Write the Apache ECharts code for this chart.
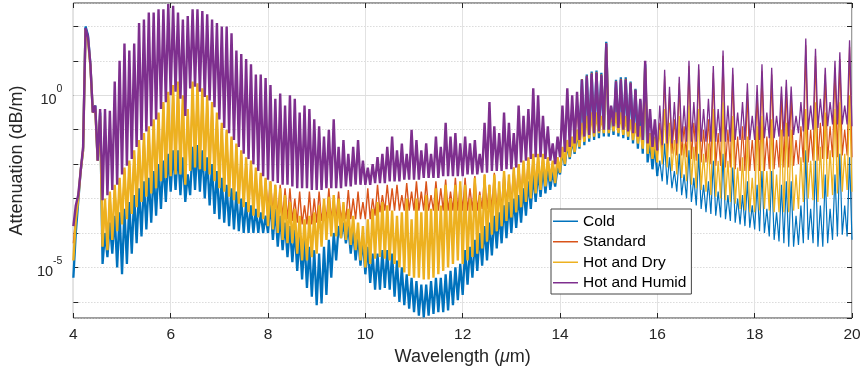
<!DOCTYPE html>
<html>
<head>
<meta charset="utf-8">
<script src="https://cdn.jsdelivr.net/npm/echarts@6/dist/echarts.min.js"></script>
<style>
  html, body { margin: 0; padding: 0; background: #fff; }
  #chart { width: 865px; height: 374px; }
</style>
</head>
<body>
<div id="chart"></div>
<script>
// wavelength grid: lows read at 4.0, 4.1, ... 20.0 µm, highs read half a step later
const wlStart = 4;
const wlStep = 0.1;
const labeledDecades = [-5, 0];

// log10 of attenuation (dB/m)
const coldLo = [
  -5.3, -3.1, -1.6, 1.75, -0.5, -1.9, -4.9, -4.7, -4.6, -5.0,
  -5.2, -4.9, -4.6, -4.3, -4.1, -3.9, -3.7, -3.5, -3.3, -3.1,
  -2.8, -2.75, -2.9, -3.1, -2.9, -2.75, -2.8, -3.0, -3.2, -3.45,
  -3.6, -3.7, -3.8, -3.9, -3.95, -4.0, -4.0, -4.0, -4.0, -4.0,
  -4.0, -4.2, -4.4, -4.5, -4.7, -4.85, -5.1, -5.35, -5.6, -5.85,
  -6.1, -6.05, -5.8, -5.3, -4.8, -4.15, -4.3, -4.6, -4.8, -4.95,
  -5.2, -5.45, -5.65, -5.65, -5.6, -5.65, -5.85, -6.0, -6.1, -6.2,
  -6.3, -6.4, -6.45, -6.4, -6.35, -6.3, -6.3, -6.25, -6.1, -5.95,
  -5.8, -5.5, -5.3, -5.1, -4.95, -4.8, -4.65, -4.45, -4.3, -4.15,
  -4.0, -3.85, -3.7, -3.5, -3.3, -3.1, -2.95, -2.85, -2.75, -2.65,
  -2.3, -2.05, -1.85, -1.7, -1.55, -1.45, -1.35, -1.3, -1.25, -1.2,
  -1.2, -1.15, -1.2, -1.25, -1.3, -1.4, -1.55, -1.7, -1.95, -2.15,
  -2.35, -2.5, -2.6, -2.7, -2.8, -2.9, -3.0, -3.1, -3.2, -3.3,
  -3.4, -3.45, -3.5, -3.55, -3.6, -3.65, -3.7, -3.75, -3.8, -3.85,
  -3.9, -3.95, -4.0, -4.1, -4.2, -4.25, -4.3, -4.4, -4.4, -4.35,
  -4.3, -4.2, -4.3, -4.4, -4.4, -4.3, -4.2, -4.1, -4.05, -4.1,
  -4.2
];
const coldHi = [
  -4.0, -2.2, 2.0, 0.9, -0.3, -0.5, -4.0, -3.7, -3.5, -3.4,
  -3.3, -3.1, -2.9, -2.7, -2.5, -2.4, -2.2, -2.0, -1.9, -1.7,
  -1.6, -1.6, -1.8, -2.3, -1.5, -1.45, -1.6, -1.8, -2.0, -2.2,
  -2.4, -2.6, -2.7, -2.8, -3.0, -3.1, -3.2, -3.3, -3.4, -3.5,
  -3.1, -3.3, -3.5, -3.7, -3.8, -3.9, -4.1, -4.2, -4.4, -4.5,
  -4.6, -4.4, -4.2, -4.0, -3.8, -3.7, -3.8, -3.9, -4.1, -4.2,
  -4.4, -4.6, -4.6, -4.5, -4.5, -4.6, -4.8, -5.0, -5.2, -5.3,
  -5.4, -5.5, -5.5, -5.4, -5.3, -5.3, -5.2, -5.1, -5.0, -4.9,
  -4.5, -4.4, -4.2, -4.0, -3.8, -3.7, -3.5, -3.4, -3.2, -3.1,
  -3.0, -2.9, -2.7, -2.5, -2.3, -2.2, -2.1, -2.1, -2.2, -2.1,
  -1.6, -1.4, -1.3, -1.1, 0.47, 0.6, 0.69, 0.72, 0.65, 1.55,
  -0.35, 0.45, 0.52, 0.52, 0.4, 0.19, -0.15, 0.9, -1.3, -1.4,
  -1.9, -1.4, -1.8, -2.2, -1.7, -2.3, -1.6, -2.4, -1.7, -2.6,
  -2.5, -1.9, -2.8, -1.7, -2.9, -2.1, -3.0, -2.9, -2.5, -3.2,
  -2.6, -2.2, -3.3, -2.2, -3.4, -2.6, -2.5, -2.5, -3.5, -3.2,
  -1.6, -3.3, -1.9, -3.2, -2.3, -3.3, -2.3, -1.7, -3.2, -1.8
];

const standardLo = [
  -4.3, -3.0, -1.55, 1.65, -0.5, -1.9, -4.35, -4.45, -4.15, -3.9,
  -3.7, -3.55, -3.4, -3.2, -3.05, -2.9, -2.8, -2.65, -2.45, -2.35,
  -2.3, -2.25, -2.25, -2.5, -2.15, -2.05, -2.1, -2.15, -2.25, -2.45,
  -2.65, -2.75, -2.9, -3.0, -3.1, -3.2, -3.35, -3.45, -3.5, -3.5,
  -3.3, -3.4, -3.5, -3.55, -3.6, -3.65, -3.7, -3.75, -3.75, -3.75,
  -3.7, -3.65, -3.6, -3.6, -3.6, -3.6, -3.6, -3.6, -3.6, -3.6,
  -3.6, -3.6, -3.5, -3.4, -3.35, -3.35, -3.35, -3.35, -3.35, -3.35,
  -3.35, -3.35, -3.35, -3.35, -3.35, -3.35, -3.35, -3.35, -3.35, -3.35,
  -3.35, -3.35, -3.35, -3.35, -3.3, -3.3, -3.3, -3.3, -3.25, -3.15,
  -3.1, -3.0, -2.9, -2.8, -2.75, -2.65, -2.55, -2.45, -2.35, -2.4,
  -2.1, -1.9, -1.7, -1.55, -1.4, -1.3, -1.2, -1.15, -1.05, -1.05,
  -1.05, -1.0, -1.05, -1.1, -1.15, -1.25, -1.35, -1.5, -1.6, -1.7,
  -1.75, -1.7, -1.7, -1.7, -1.75, -1.75, -1.8, -1.85, -1.9, -1.95,
  -1.95, -2.0, -2.05, -2.05, -2.1, -2.1, -2.15, -2.2, -2.2, -2.2,
  -2.2, -2.2, -2.2, -2.15, -2.15, -2.1, -2.1, -2.1, -2.05, -2.0,
  -1.95, -1.95, -1.9, -1.9, -1.85, -1.85, -1.8, -1.8, -1.75, -1.75,
  -1.8
];
const standardHi = [
  -3.5, -2.2, 1.92, 0.88, -0.35, -0.5, -3.05, -2.85, -2.65, -2.45,
  -2.15, -1.95, -1.65, -1.35, -1.15, -0.95, -0.75, -0.55, -0.25, 0.05,
  0.25, 0.35, -0.05, -0.45, 0.35, 0.3, 0.15, -0.05, -0.25, -0.55,
  -0.85, -1.05, -1.25, -1.45, -1.65, -1.85, -1.95, -2.15, -2.3, -2.45,
  -2.5, -2.6, -2.6, -2.7, -2.7, -3.0, -2.8, -3.2, -2.8, -3.0,
  -2.8, -3.1, -2.7, -3.0, -2.8, -3.2, -2.75, -3.0, -2.8, -3.1,
  -2.7, -3.0, -2.6, -2.9, -2.6, -2.7, -2.6, -2.9, -2.55, -2.8,
  -2.5, -2.8, -2.5, -2.9, -2.5, -2.7, -2.45, -2.8, -2.4, -2.6,
  -2.4, -2.7, -2.35, -2.8, -2.3, -2.6, -2.25, -2.7, -2.2, -2.4,
  -2.1, -2.0, -1.95, -1.85, -1.75, -1.75, -1.75, -1.85, -1.95, -1.85,
  -1.55, -1.35, -1.25, -0.2, 0.47, 0.57, 0.65, 0.68, 0.61, 1.52,
  -0.35, 0.42, 0.48, 0.48, 0.37, 0.17, -0.15, 0.95, -1.15, -1.25,
  -0.8, 0.55, 0.05, -0.7, 0.35, -0.9, 0.85, -0.8, 0.75, -1.0,
  -0.7, 0.65, -1.1, 1.15, -1.0, 0.6, -1.2, -0.9, 0.1, -1.3,
  0.1, 0.7, -1.2, 0.6, -1.3, 0.05, 0.25, 0.0, -1.3, -0.9,
  1.45, -1.0, 1.15, -0.8, 0.6, -0.9, 0.8, 1.05, -1.0, 1.4
];

const hotDryLo = [
  -4.8, -3.0, -1.6, 1.6, -0.5, -1.9, -4.4, -4.5, -4.2, -3.95,
  -3.75, -3.6, -3.45, -3.25, -3.1, -2.95, -2.85, -2.7, -2.5, -2.4,
  -2.35, -2.3, -2.3, -2.6, -2.2, -2.1, -2.15, -2.2, -2.3, -2.5,
  -2.7, -2.8, -2.95, -3.05, -3.15, -3.25, -3.4, -3.5, -3.55, -3.6,
  -3.8, -3.9, -4.0, -4.2, -4.3, -4.3, -4.6, -4.8, -4.8, -4.7,
  -4.6, -4.4, -4.2, -4.1, -4.1, -4.15, -4.2, -4.35, -4.5, -4.8,
  -5.0, -4.9, -4.75, -4.7, -4.75, -4.8, -4.9, -5.0, -5.15, -5.25,
  -5.3, -5.3, -5.35, -5.35, -5.3, -5.2, -5.1, -5.0, -4.9, -4.8,
  -4.9, -4.8, -4.7, -4.6, -4.45, -4.25, -4.05, -3.95, -3.8, -3.65,
  -3.55, -3.4, -3.25, -3.1, -3.0, -2.85, -2.75, -2.65, -2.5, -2.55,
  -2.25, -2.0, -1.8, -1.65, -1.5, -1.35, -1.25, -1.2, -1.1, -1.1,
  -1.1, -1.05, -1.1, -1.15, -1.2, -1.3, -1.4, -1.55, -1.7, -1.85,
  -1.95, -2.0, -2.1, -2.2, -2.3, -2.4, -2.5, -2.6, -2.7, -2.75,
  -2.8, -2.9, -2.95, -3.0, -3.05, -3.1, -3.15, -3.3, -3.35, -3.4,
  -3.4, -3.35, -3.3, -3.35, -3.4, -3.4, -3.4, -3.4, -3.35, -3.3,
  -3.1, -3.0, -3.05, -3.1, -3.0, -2.95, -2.9, -2.85, -2.8, -2.75,
  -2.8
];
const hotDryHi = [
  -3.6, -2.2, 1.9, 0.85, -0.4, -0.6, -3.0, -2.8, -2.6, -2.4,
  -2.1, -1.9, -1.6, -1.3, -1.1, -0.9, -0.7, -0.5, -0.2, 0.1,
  0.3, 0.4, 0.0, -0.4, 0.4, 0.35, 0.2, 0.0, -0.2, -0.5,
  -0.8, -1.0, -1.2, -1.4, -1.6, -1.8, -1.9, -2.1, -2.25, -2.4,
  -2.5, -2.6, -2.7, -2.9, -3.1, -3.3, -3.5, -3.6, -3.5, -3.4,
  -3.2, -3.0, -2.95, -2.9, -3.0, -3.1, -3.3, -3.5, -3.7, -3.8,
  -3.6, -3.3, -3.1, -3.1, -3.2, -3.35, -3.5, -3.4, -3.0, -3.6,
  -3.0, -3.4, -2.9, -3.3, -2.7, -3.2, -2.6, -3.0, -2.6, -2.5,
  -2.6, -3.0, -2.4, -2.9, -2.3, -2.6, -2.3, -2.5, -2.2, -2.3,
  -2.1, -2.0, -1.9, -1.8, -1.7, -1.7, -1.7, -1.8, -1.9, -1.8,
  -1.5, -1.3, -1.2, -1.0, -0.8, -0.6, -0.5, -0.5, -0.6, 1.4,
  -0.4, -0.5, -0.5, -0.6, -0.7, -0.8, -0.9, 0.8, -1.1, -1.2,
  -1.0, -0.4, -0.8, -1.3, -0.6, -1.4, -0.3, -1.5, -0.4, -1.7,
  -1.4, -0.4, -1.9, -0.2, -1.9, -0.6, -2.1, -1.8, -1.2, -2.4,
  -0.9, -0.6, -2.2, -0.7, -2.3, -1.0, -0.8, -1.0, -2.3, -1.8,
  -0.4, -1.9, -0.2, -1.5, -0.5, -1.6, -0.4, -0.2, -1.7, 0.0
];

const hotHumidLo = [
  -3.8, -2.9, -1.5, 1.7, -0.5, -1.9, -3.05, -2.9, -2.75, -2.6,
  -2.3, -2.05, -1.85, -1.5, -1.3, -1.05, -0.9, -0.7, -0.4, -0.2,
  0.0, 0.1, -0.1, -0.6, 0.2, 0.25, 0.1, -0.05, -0.15, -0.35,
  -0.7, -0.95, -1.1, -1.3, -1.5, -1.7, -1.85, -2.0, -2.2, -2.35,
  -2.45, -2.5, -2.55, -2.6, -2.6, -2.65, -2.7, -2.7, -2.7, -2.75,
  -2.75, -2.75, -2.7, -2.7, -2.7, -2.7, -2.65, -2.65, -2.6, -2.6,
  -2.6, -2.6, -2.55, -2.55, -2.55, -2.5, -2.5, -2.5, -2.45, -2.45,
  -2.45, -2.45, -2.4, -2.4, -2.4, -2.4, -2.35, -2.35, -2.35, -2.35,
  -2.35, -2.3, -2.3, -2.3, -2.25, -2.25, -2.2, -2.2, -2.2, -2.15,
  -2.15, -2.1, -1.95, -1.9, -1.85, -1.8, -1.8, -1.85, -1.9, -2.0,
  -1.8, -1.65, -1.5, -1.4, -1.3, -1.2, -1.15, -1.1, -1.05, -1.0,
  -1.0, -0.9, -0.95, -1.0, -1.05, -1.1, -1.2, -1.3, -1.4, -1.5,
  -1.6, -1.45, -1.4, -1.4, -1.4, -1.35, -1.35, -1.35, -1.35, -1.35,
  -1.35, -1.35, -1.35, -1.35, -1.35, -1.35, -1.3, -1.3, -1.3, -1.3,
  -1.3, -1.3, -1.25, -1.25, -1.25, -1.2, -1.2, -1.2, -1.15, -1.1,
  -1.05, -1.0, -1.0, -0.95, -0.9, -0.9, -0.85, -0.85, -0.85, -0.85,
  -0.9
];
const hotHumidHi = [
  -3.2, -2.2, 1.95, 0.9, -0.3, -0.4, -0.4, -0.45, 0.4, 1.0,
  1.5, 1.3, 1.5, 2.1, 2.2, 2.4, 2.4, 2.5, 2.5, 2.65,
  2.6, 2.4, 2.2, 2.3, 2.5, 2.5, 2.45, 2.35, 2.2, 2.1,
  2.0, 2.0, 1.8, 1.3, 1.2, 1.05, 0.9, 0.6, 0.6, 0.5,
  0.3, -0.1, 0.05, -0.3, 0.0, -0.1, -0.5, -0.3, -0.4, -0.7,
  -0.9, -1.2, -1.0, -0.7, -1.5, -1.3, -1.7, -1.5, -1.3, -1.9,
  -2.1, -2.0, -1.8, -1.7, -1.5, -1.2, -1.6, -1.4, -1.7, -1.0,
  -1.3, -1.6, -1.4, -1.7, -1.2, -1.5, -0.8, -1.2, -1.1, -1.4,
  -1.2, -1.4, -1.3, -1.7, -0.8, -0.2, -0.9, -1.1, -0.5, -0.8,
  -1.1, -0.3, -0.6, -0.4, 0.2, 0.0, -0.6, -0.9, -1.4, -1.2,
  -0.3, 0.2, 0.0, 0.1, 0.45, 0.55, 0.62, 0.65, 0.58, 1.5,
  -0.3, 0.4, 0.45, 0.45, 0.35, 0.15, -0.1, 1.0, -0.4, -0.7,
  -0.3, 0.74, 0.25, -0.2, 0.54, -0.3, 1.0, -0.2, 0.9, -0.4,
  -0.1, 0.85, -0.4, 1.3, -0.3, 0.8, -0.5, -0.2, 0.35, -0.6,
  0.3, 0.9, -0.5, 0.8, -0.6, 0.25, 0.45, 0.25, -0.6, -0.2,
  1.65, -0.3, 1.35, -0.1, 0.8, -0.2, 1.0, 1.25, -0.3, 1.6
];

const seriesNames = ['Cold', 'Standard', 'Hot and Dry', 'Hot and Humid'];
const seriesColors = ['#0072BD', '#D95319', '#EDB120', '#7E2F8E'];
const seriesLo = [coldLo, standardLo, hotDryLo, hotHumidLo];
const seriesHi = [coldHi, standardHi, hotDryHi, hotHumidHi];
// line widths: dense band part (4-16 µm) and the sparse line part (16-20 µm)
const denseWidths = [2.3, 1.4, 2.4, 2.4];
const sparseWidths = [1.2, 1.2, 1.3, 1.3];
const sparseFrom = 120; // index of 16.0 µm

const font = 'Liberation Sans, Arial, Helvetica, sans-serif';
const axisColor = '#262626';

function buildPoints(lo, hi, from, to) {
  const pts = [];
  for (let i = from; i <= to; i++) {
    const wl = +(wlStart + i * wlStep).toFixed(2);
    pts.push([wl, Math.pow(10, lo[i])]);
    if (i < hi.length && i < to) {
      pts.push([+(wl + wlStep / 2).toFixed(2), Math.pow(10, hi[i])]);
    }
  }
  return pts;
}

const chart = echarts.init(document.getElementById('chart'), null, { renderer: 'canvas' });

const yMin = Math.pow(10, -6.47);
const yMax = Math.pow(10, 2.68);

function decadeLabel(value) {
  const e = Math.log10(value);
  const r = Math.round(e);
  if (Math.abs(e - r) > 0.01) return '';
  if (labeledDecades.indexOf(r) < 0) return '';
  return '{b|10}{s|' + r + '}';
}

function lineSeries(k, data, width) {
  return {
    name: seriesNames[k],
    type: 'line',
    data: data,
    showSymbol: false,
    symbol: 'none',
    sampling: null,
    lineStyle: { color: seriesColors[k], width: width, join: 'bevel' },
    itemStyle: { color: seriesColors[k] },
    emphasis: { disabled: true },
    clip: true,
    z: 3
  };
}

const series = [];
seriesNames.forEach(function (name, k) {
  const lo = seriesLo[k], hi = seriesHi[k];
  const dense = lineSeries(k, buildPoints(lo, hi, 0, sparseFrom), denseWidths[k]);
  const sparse = lineSeries(k, buildPoints(lo, hi, sparseFrom, lo.length - 1), sparseWidths[k]);
  if (k === 0) {
    dense.markLine = {
      silent: true,
      symbol: 'none',
      z: 1,
      animation: false,
      label: { show: false },
      lineStyle: { color: '#dedede', type: 'solid', width: 1 },
      data: labeledDecades.map(function (d) { return { yAxis: Math.pow(10, d) }; })
    };
  }
  series.push(dense, sparse);
});

chart.setOption({
  animation: false,
  backgroundColor: '#fff',
  grid: {
    left: 71, right: 13, top: 3, bottom: 56,
    show: true, borderColor: '#3a3a3a', borderWidth: 1, backgroundColor: 'transparent'
  },
  legend: {
    data: seriesNames,
    orient: 'vertical',
    left: 551, top: 209,
    icon: 'rect',
    itemWidth: 25, itemHeight: 1.5, itemGap: 0,
    padding: [2, 5, 1, 2],
    backgroundColor: '#fff',
    borderColor: '#444', borderWidth: 1, borderRadius: 0,
    selectedMode: false,
    textStyle: { fontFamily: font, fontSize: 15.5, color: '#000', lineHeight: 20.5 }
  },
  xAxis: [
    {
      type: 'value', min: 4, max: 20, interval: 2, position: 'bottom',
      name: 'Wavelength ({i|μ}m)', nameLocation: 'middle', nameGap: 29,
      nameTextStyle: { fontFamily: font, fontSize: 18, color: axisColor,
        rich: { i: { fontFamily: font, fontSize: 18, fontStyle: 'italic', color: axisColor } } },
      axisLine: { show: false },
      axisTick: { show: true, inside: true, length: 5, lineStyle: { color: axisColor } },
      axisLabel: { fontFamily: font, fontSize: 15.5, color: axisColor, margin: 9 },
      splitLine: { show: true, lineStyle: { color: '#e2e2e2', width: 1 } }
    },
    {
      type: 'value', min: 4, max: 20, interval: 2, position: 'top',
      axisLine: { show: false },
      axisTick: { show: true, inside: true, length: 5, lineStyle: { color: axisColor } },
      axisLabel: { show: false },
      splitLine: { show: false }
    }
  ],
  yAxis: [
    {
      type: 'log', logBase: 10, min: yMin, max: yMax, splitNumber: 10, position: 'left',
      name: 'Attenuation (dB/m)', nameLocation: 'middle', nameGap: 34,
      nameTextStyle: { fontFamily: font, fontSize: 18, color: axisColor },
      axisLine: { show: false },
      axisTick: { show: true, inside: true, length: 5, lineStyle: { color: axisColor } },
      axisLabel: {
        margin: 11, formatter: decadeLabel, showMinLabel: false, showMaxLabel: false,
        rich: {
          b: { fontFamily: font, fontSize: 14.5, color: axisColor, lineHeight: 24, verticalAlign: 'bottom' },
          s: { fontFamily: font, fontSize: 10.5, color: axisColor, lineHeight: 12, verticalAlign: 'top' }
        }
      },
      splitLine: { show: true, lineStyle: { color: '#c9c9c9', type: [1, 2], width: 1 } }
    },
    {
      type: 'log', logBase: 10, min: yMin, max: yMax, splitNumber: 10, position: 'right',
      axisLine: { show: false },
      axisTick: { show: true, inside: true, length: 5, lineStyle: { color: axisColor } },
      axisLabel: { show: false },
      splitLine: { show: false }
    }
  ],
  series: series
});
</script>
</body>
</html>
